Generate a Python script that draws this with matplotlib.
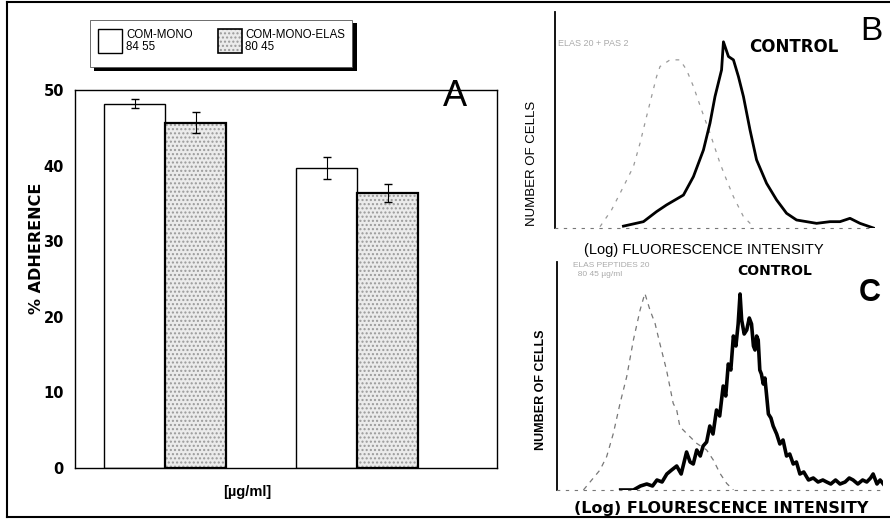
import numpy as np
import matplotlib.pyplot as plt
from matplotlib.patches import Rectangle
from matplotlib.lines import Line2D

plt.rcParams['font.family'] = ['Liberation Sans', 'DejaVu Sans']

W, H = 890, 520

# ---- panel A : adherence bars
groups = np.array([0, 1])
mono = [48.2, 39.7]
mono_err = [0.6, 1.5]
elas = [45.7, 36.4]
elas_err = [1.4, 1.2]
leg_labels = ['COM-MONO\n84 55', 'COM-MONO-ELAS\n80 45']
yticks = [0, 10, 20, 30, 40, 50]

# ---- panel B : histograms (channel, cells)
b_ctrl_x = [219, 283, 325, 357, 411, 443, 475, 496, 512, 533, 539, 555, 571, 587, 603,
            624, 645, 677, 709, 741, 773, 805, 837, 880, 912, 944, 976, 1019]
b_ctrl_y = [1, 3.4, 8.8, 12.4, 17.7, 27.6, 41.9, 56.3, 70.6, 84.9, 100, 92.1, 90.3, 81.3, 70.6,
            52.7, 36.6, 24, 15.1, 7.9, 4.3, 3.4, 2.5, 3.4, 3.4, 5.2, 2.5, 0]
b_elas_x = [144, 181, 219, 251, 272, 293, 309, 325, 336, 368, 400, 421, 443, 469, 496,
            528, 549, 571, 603, 635]
b_elas_y = [0.7, 9.7, 22.2, 33, 45.5, 59.9, 70.6, 81.3, 86.7, 90.3, 90.3, 84.9, 76, 63.4, 50.9,
            34.8, 25.8, 16.8, 6.1, 0.7]

# ---- panel C
c_ctrl_x = [200, 240, 262, 282, 300, 314, 330, 345, 360, 376, 390, 407, 418, 428, 439,
            450, 459, 470, 480, 490, 501, 511, 522, 530, 538, 546, 554, 562, 569, 575,
            580, 588, 596, 604, 611, 617, 622, 627, 632, 637, 642, 648, 653, 658, 664,
            672, 679, 690, 700, 710, 721, 731, 742, 752, 763, 775, 790, 805, 820, 835,
            847, 860, 875, 889, 905, 918, 930, 945, 960, 973, 985, 993, 1005, 1015, 1025]
c_ctrl_y = [0, 0, 2, 3, 2, 5, 4, 8, 10, 12, 8, 19, 14, 13, 20,
            17, 22, 24, 32, 28, 40, 37, 52, 47, 63, 60, 77, 72, 83, 98,
            85, 78, 80, 86, 83, 72, 70, 77, 75, 60, 58, 53, 56, 48, 38,
            36, 32, 28, 23, 25, 17, 18, 13, 14, 8, 9, 5, 6, 4, 5,
            4, 3, 5, 3, 4, 6, 5, 3, 5, 4, 6, 8, 3, 5, 3]
c_elas_x = [83, 135, 156, 177, 198, 219, 240, 261, 276, 292, 308, 323, 344, 365, 376,
            386, 407, 439, 470, 491, 512, 533, 554]
c_elas_y = [0, 10, 16.7, 28.3, 43.3, 56.7, 75, 90, 98.3, 90, 83.3, 73.3, 60, 43.3, 40,
            31.7, 28.3, 23.3, 20, 15, 8.3, 3.3, 0]


def box(l, t, r, b):
    return [l / W, 1 - b / H, (r - l) / W, (b - t) / H]


def fx(x):
    return x / W


def fy(y):
    return 1 - y / H


fig = plt.figure(figsize=(8.9, 5.2), dpi=100)

# outer frame
for xs, ys in [([7, 889], [2, 2]), ([7, 889], [517, 517]), ([7, 7], [2, 517])]:
    fig.add_artist(Line2D([fx(v) for v in xs], [fy(v) for v in ys], color='black', lw=1.5))

# ---- A
ax = fig.add_axes(box(75, 90, 497, 468))
w = 0.318
ax.bar(groups - w / 2, mono, w, color='white', edgecolor='black', lw=1)
ax.bar(groups + w / 2, elas, w, color='#ebebeb', edgecolor='#9a9a9a', hatch='....', lw=0)
ax.bar(groups + w / 2, elas, w, fill=False, edgecolor='black', lw=1.6)
ax.errorbar(groups - w / 2, mono, yerr=mono_err, fmt='none', ecolor='black', capsize=3, elinewidth=0.8)
ax.errorbar(groups + w / 2, elas, yerr=elas_err, fmt='none', ecolor='black', capsize=3, elinewidth=0.8)
ax.set_xlim(-0.469, 1.729)
ax.set_ylim(0, 50)
ax.set_yticks(yticks)
ax.set_yticklabels([str(t) for t in yticks], fontsize=10.5, fontweight='bold', family='DejaVu Sans')
ax.set_xticks([])
ax.tick_params(axis='y', length=0, pad=8)
for s in ax.spines.values():
    s.set_linewidth(1)
fig.text(fx(37), fy(248), '% ADHERENCE', rotation=90, fontsize=11.5, fontweight='bold',
         family='DejaVu Sans', ha='center', va='center')
fig.text(fx(455), fy(97), 'A', fontsize=26, ha='center', va='center')
fig.text(fx(247), fy(492), '[µg/ml]', fontsize=10.5, fontweight='bold', ha='center', va='center')

# legend with drop shadow
fig.add_artist(Rectangle((fx(94), fy(71)), (357 - 94) / W, 48 / H, transform=fig.transFigure,
                         facecolor='black', edgecolor='none'))
fig.add_artist(Rectangle((fx(90), fy(67)), (352 - 90) / W, 47 / H, transform=fig.transFigure,
                         facecolor='white', edgecolor='#555555', lw=0.6))
fig.add_artist(Rectangle((fx(98), fy(53)), 24 / W, 24 / H, transform=fig.transFigure,
                         facecolor='white', edgecolor='black', lw=1))
fig.add_artist(Rectangle((fx(218), fy(53)), 24 / W, 24 / H, transform=fig.transFigure,
                         facecolor='#ebebeb', edgecolor='#9a9a9a', hatch='....', lw=0))
fig.add_artist(Rectangle((fx(218), fy(53)), 24 / W, 24 / H, transform=fig.transFigure,
                         fill=False, edgecolor='black', lw=1.2))
fig.text(fx(126), fy(41), leg_labels[0], fontsize=8.3, va='center', linespacing=0.95)
fig.text(fx(245), fy(41), leg_labels[1], fontsize=8.3, va='center', linespacing=0.95)


def hist_axes(rect, ymax):
    a = fig.add_axes(rect)
    a.set_xlim(0, 1024)
    a.set_ylim(0, ymax)
    for k in ['top', 'right']:
        a.spines[k].set_visible(False)
    a.spines['left'].set_linewidth(1.3)
    a.spines['bottom'].set_color('#777777')
    a.spines['bottom'].set_linestyle((0, (2, 6)))
    a.set_xticks([])
    a.set_yticks([])
    a.patch.set_alpha(0)
    return a


# ---- B
bx = hist_axes(box(555, 12, 875, 228), 116)
bx.plot(b_elas_x, b_elas_y, color='#9a9a9a', lw=0.9, ls=(0, (3, 5)))
bx.plot(b_ctrl_x, b_ctrl_y, color='black', lw=2)
fig.text(fx(532), fy(163), 'NUMBER OF CELLS', rotation=90, fontsize=9.5, ha='center', va='center')
fig.text(fx(704), fy(250), '(Log) FLUORESCENCE INTENSITY', fontsize=10.5, ha='center', va='center')
fig.text(fx(794), fy(47), 'CONTROL', fontsize=12, fontweight='bold', ha='center', va='center',
         family='DejaVu Sans')
fig.text(fx(871), fy(32), 'B', fontsize=24, ha='center', va='center')
fig.text(fx(558), fy(44), 'ELAS 20 + PAS 2', fontsize=6.5, color='#aaaaaa', va='center')

# ---- C
cx = hist_axes(box(557, 262, 883, 490), 114)
cx.plot(c_elas_x, c_elas_y, color='#777777', lw=0.9, ls=(0, (4, 4)))
cx.plot(c_ctrl_x, c_ctrl_y, color='black', lw=2.6)
fig.text(fx(541), fy(390), 'NUMBER OF CELLS', rotation=90, fontsize=9, fontweight='bold',
         ha='center', va='center')
fig.text(fx(721), fy(508), '(Log) FLOURESCENCE INTENSITY', fontsize=11.5, fontweight='bold',
         ha='center', va='center', family='DejaVu Sans')
fig.text(fx(775), fy(271), 'CONTROL', fontsize=10, fontweight='bold', ha='center', va='center',
         family='DejaVu Sans')
fig.text(fx(870), fy(293), 'C', fontsize=22, fontweight='bold', ha='center', va='center')
fig.text(fx(573), fy(270), 'ELAS PEPTIDES 20\n  80 45 µg/ml', fontsize=6, color='#aaaaaa',
         va='center', linespacing=1.3)

fig.savefig('out.png', dpi=100)
